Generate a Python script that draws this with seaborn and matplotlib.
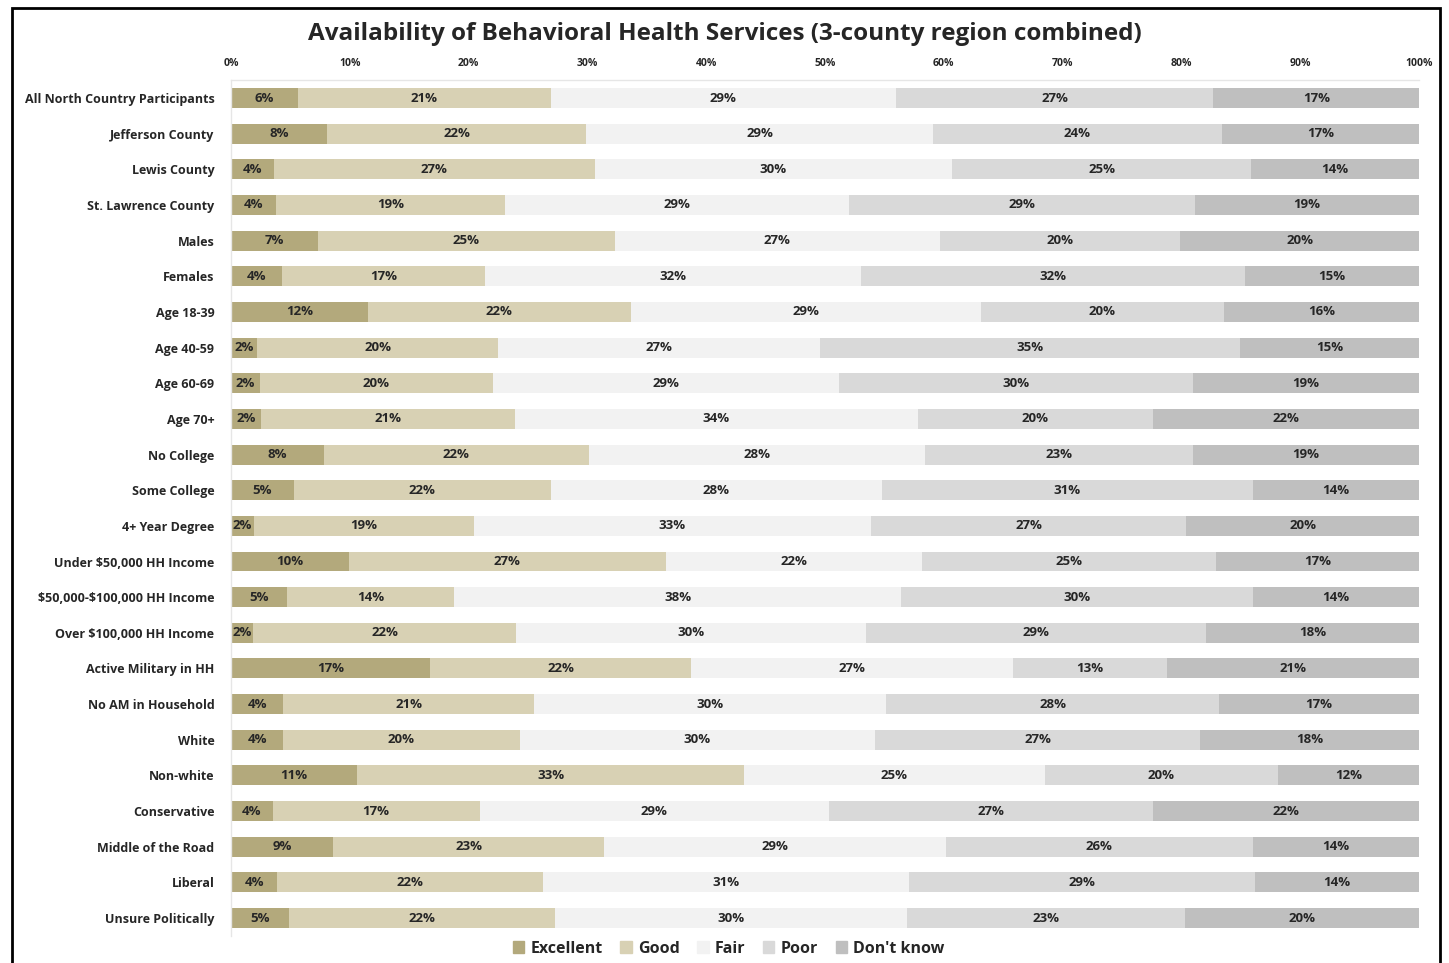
import pandas as pd
import numpy as np
import seaborn as sns
import matplotlib.pyplot as plt
import matplotlib.patches as mpat

groups = ['All North Country Participants', 'Jefferson County', 'Lewis County',
          'St. Lawrence County', 'Males', 'Females', 'Age 18-39', 'Age 40-59',
          'Age 60-69', 'Age 70+', 'No College', 'Some College', '4+ Year Degree',
          'Under $50,000 HH Income', '$50,000-$100,000 HH Income',
          'Over $100,000 HH Income', 'Active Military in HH', 'No AM in Household',
          'White', 'Non-white', 'Conservative', 'Middle of the Road', 'Liberal',
          'Unsure Politically']

excellent = [5.6, 8.1, 3.6, 3.8, 7.3, 4.3, 11.5, 2.2, 2.4, 2.5, 7.8, 5.3, 1.9,
             9.9, 4.7, 1.9, 16.8, 4.4, 4.4, 10.6, 3.5, 8.6, 3.9, 4.9]
good = [21.3, 21.8, 27.0, 19.3, 25.0, 17.1, 22.1, 20.3, 19.6, 21.4, 22.3, 21.6, 18.6,
        26.7, 14.1, 22.1, 22.0, 21.1, 19.9, 32.6, 17.4, 22.8, 22.4, 22.4]
fair = [29.1, 29.2, 30.1, 29.0, 27.4, 31.6, 29.4, 27.1, 29.1, 33.9, 28.3, 27.9, 33.4,
        21.6, 37.6, 29.6, 27.1, 29.6, 29.9, 25.3, 29.4, 28.8, 30.8, 29.6]
poor = [26.7, 24.3, 25.2, 29.1, 20.2, 32.3, 20.4, 35.3, 29.8, 19.8, 22.6, 31.2, 26.6,
        24.7, 29.6, 28.6, 13.0, 28.0, 27.4, 19.6, 27.2, 25.8, 29.1, 23.4]
dont_know = [17.3, 16.6, 14.1, 18.9, 20.1, 14.6, 16.4, 15.1, 19.0, 22.4, 19.0, 14.0, 19.6,
             17.1, 14.0, 18.0, 21.2, 16.8, 18.4, 11.9, 22.4, 14.0, 13.8, 19.7]

cats = ['Excellent', 'Good', 'Fair', 'Poor', "Don't know"]
colors = ['#b3a97c', '#d8d1b4', '#f2f2f2', '#d9d9d9', '#bfbfbf']

df = pd.DataFrame({'group': groups, 'Excellent': excellent, 'Good': good,
                   'Fair': fair, 'Poor': poor, "Don't know": dont_know})
cum = df[cats].cumsum(axis=1)
# scale to 100 so every bar reaches the right edge
cum = cum.div(cum[cats[-1]], axis=0) * 100
cum['group'] = df['group']

sns.set_style('white')
plt.rcParams['font.family'] = ['Open Sans', 'DejaVu Sans']
plt.rcParams['text.parse_math'] = False

fig = plt.figure(figsize=(14.49, 9.63), dpi=100)
ax = fig.add_axes([0.1594, 0.0282, 0.8199, 0.8885])

# draw from the right-most segment down so each layer covers the next
for c, col in zip(cats[::-1], colors[::-1]):
    sns.barplot(data=cum, x=c, y='group', orient='h', color=col, width=0.56,
                saturation=1, ax=ax, edgecolor='none', linewidth=0)

for i in range(len(groups)):
    left = 0
    for c in cats:
        right = cum.loc[i, c]
        val = df.loc[i, c]
        ax.text((left + right) / 2, i, f'{round(val):.0f}%', ha='center', va='center',
                fontsize=9.5, fontweight='bold', color='#262626')
        left = right

ax.set_xlim(0, 100)
ax.set_ylim(len(groups) - 0.5, -0.5)
ax.xaxis.tick_top()
ax.set_xticks(np.arange(0, 101, 10))
ax.set_xticklabels([f'{t}%' for t in range(0, 101, 10)], fontsize=7.5, fontweight='bold')
ax.tick_params(axis='x', length=0, pad=8)
ax.tick_params(axis='y', length=0, pad=12)
ax.set_yticks(range(len(groups)))
ax.set_yticklabels(groups, fontsize=9, fontweight='bold')
ax.set_xlabel('')
ax.set_ylabel('')
for s in ['right', 'bottom']:
    ax.spines[s].set_visible(False)
for s in ['left', 'top']:
    ax.spines[s].set_color('#e6e6e6')
    ax.spines[s].set_linewidth(1)

fig.suptitle('Availability of Behavioral Health Services (3-county region combined)',
             x=0.5, y=0.977, fontsize=17.5, fontweight='bold')

handles = [mpat.Patch(color=col, label=c) for c, col in zip(cats, colors)]
fig.legend(handles=handles, loc='center', bbox_to_anchor=(0.503, 0.015), ncol=5,
           frameon=False, prop={'size': 11.5, 'weight': 'bold'}, handlelength=0.7,
           handleheight=0.7, handletextpad=0.4, columnspacing=1.1)

fig.patches.append(mpat.Rectangle((0.0085, -0.05), 0.9855, 1.042, transform=fig.transFigure,
                                  fill=False, edgecolor='black', linewidth=2))

fig.savefig('out.png', dpi=100)
